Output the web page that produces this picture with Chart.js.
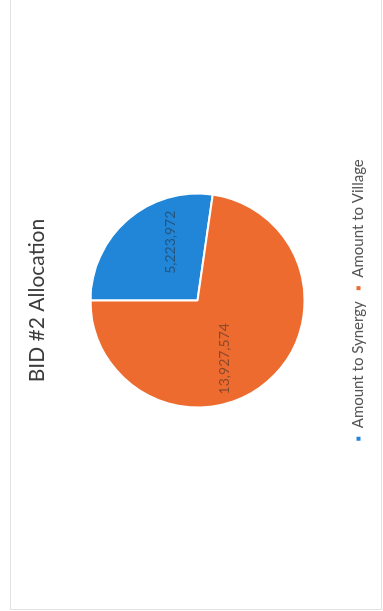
<!DOCTYPE html>
<html>
<head>
<meta charset="utf-8">
<title>BID #2 Allocation</title>
<script src="https://cdn.jsdelivr.net/npm/chart.js@4.4.1/dist/chart.umd.min.js"></script>
<style>
  html, body {
    margin: 0;
    padding: 0;
    width: 383px;
    height: 611px;
    overflow: hidden;
    background: #fff;
  }
  /* light frame of the chart area */
  .frame {
    position: absolute;
    left: 10px;
    top: -1px;
    width: 370px;
    height: 609px;
    border: 1px solid #e2e2e2;
  }
  /* the scanned page is turned a quarter turn, so the chart is too */
  .turned {
    position: absolute;
    left: 0;
    top: 0;
    width: 611px;
    height: 383px;
    transform-origin: 0 0;
    transform: translate(0, 611px) rotate(-90deg);
  }
</style>
</head>
<body>
<div class="frame"></div>
<div class="turned">
  <canvas id="bid-chart" width="611" height="383"></canvas>
</div>

<script>
// Chart data
const categories = ['Amount to Synergy', 'Amount to Village']
const amounts = [5223972, 13927574]
const sliceColors = ['#2185d8', '#ee6b2f']

const fmt = n => String(n).replace(/\B(?=(\d{3})+(?!\d))/g, ',')

// value labels inside the slices (Excel's best fit sits a little past mid-angle)
const sliceLabels = {
  id: 'sliceLabels',
  afterDatasetsDraw(chart) {
    const ctx = chart.ctx
    const meta = chart.getDatasetMeta(0)
    ctx.save()
    ctx.font = '14px Lato'
    ctx.fillStyle = 'rgba(40, 40, 40, 0.5)'
    ctx.textAlign = 'center'
    ctx.textBaseline = 'middle'
    meta.data.forEach((arc, i) => {
      const p = arc.getProps(['x', 'y', 'startAngle', 'endAngle', 'outerRadius'], true)
      const mid = (p.startAngle + p.endAngle) / 2 + 0.28
      const d = p.outerRadius * 0.6
      ctx.fillText(fmt(amounts[i]), p.x + Math.cos(mid) * d, p.y + Math.sin(mid) * d)
    })
    ctx.restore()
  }
}

new Chart(document.getElementById('bid-chart'), {
  type: 'pie',
  data: {
    labels: categories,
    datasets: [{
      data: amounts,
      backgroundColor: sliceColors,
      borderColor: '#ffffff',
      borderWidth: 2,
      radius: 107
    }]
  },
  options: {
    responsive: false,
    animation: false,
    layout: { padding: { left: 10, right: 0, top: 0, bottom: 7 } },
    plugins: {
      title: {
        display: true,
        text: 'BID #2 Allocation',
        color: '#3c3c3c',
        font: { family: 'Lato', size: 21, weight: 'normal' },
        padding: { top: 25, bottom: 4 }
      },
      legend: {
        position: 'bottom',
        labels: {
          usePointStyle: true,
          pointStyle: 'rect',
          boxWidth: 6,
          boxHeight: 6,
          padding: 10,
          color: '#555555',
          font: { family: 'Lato', size: 15 }
        }
      },
      tooltip: { enabled: false }
    }
  },
  plugins: [sliceLabels]
})
</script>
</body>
</html>
